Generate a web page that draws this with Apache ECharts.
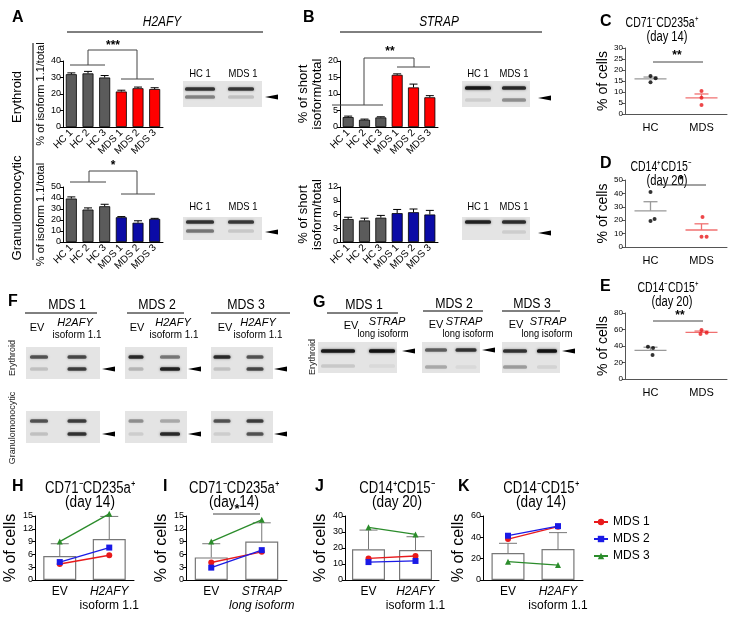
<!DOCTYPE html>
<html>
<head>
<meta charset="utf-8">
<script src="https://cdn.jsdelivr.net/npm/echarts@6/dist/echarts.min.js"></script>
<style>
  html, body { margin: 0; padding: 0; background: #fff; }
  #fig { width: 741px; height: 617px; }
</style>
</head>
<body>
<div id="fig"></div>
<script>
  // ---------- data ----------
  const samples = ['HC 1', 'HC 2', 'HC 3', 'MDS 1', 'MDS 2', 'MDS 3'];
  // A: H2AFY, % of isoform 1.1 / total
  const h2afyEryMean = [32, 32.5, 30, 21.5, 23.5, 23];
  const h2afyEryErr = [0.8, 1.2, 1.2, 0.8, 0.7, 0.8];
  const h2afyGranMean = [39.5, 29.5, 32.5, 22.5, 17.5, 21];
  const h2afyGranErr = [1.5, 1.5, 1.8, 0.6, 1.8, 0.5];
  // B: STRAP, % of short isoform / total
  const strapEryMean = [3.0, 2.2, 2.9, 15.8, 12.0, 9.0];
  const strapEryErr = [0.3, 0.2, 0.2, 0.3, 1.0, 0.5];
  const strapGranMean = [5.0, 4.7, 5.3, 6.3, 6.5, 6.0];
  const strapGranErr = [0.4, 0.5, 0.5, 0.8, 0.7, 0.9];

  // C-E: dot plots (x = group position with jitter, y = % of cells)
  const groups = ['HC', 'MDS'];
  const cHcX = [0.5, 0.6, 0.5],  cHcY = [17.3, 16.2, 14.4];
  const cMdsX = [1.5, 1.5, 1.5], cMdsY = [10.5, 7.4, 4.1];
  const cMean = [16.0, 7.3], cSem = [0.8, 1.8];
  const dHcX = [0.5, 0.5, 0.58], dHcY = [41, 19.4, 20.9];
  const dMdsX = [1.52, 1.5, 1.6], dMdsY = [22.4, 7.7, 7.7];
  const dMean = [27, 12.7], dSem = [6.8, 4.6];
  const eHcX = [0.45, 0.55, 0.54], eHcY = [39.2, 37.6, 29];
  const eMdsX = [1.5, 1.6, 1.48], eMdsY = [59.4, 56.1, 54.5];
  const eMean = [34.7, 56.6], eSem = [3.8, 1.5];

  // H-K: EV vs overexpression
  const hCats = ['EV', 'H2AFY'];
  const iCats = ['EV', 'STRAP'];
  const hMean = [5.6, 9.6],   hErr = [2.9, 5.3];
  const hMds1 = [3.75, 5.8],  hMds2 = [4.2, 7.6],   hMds3 = [9.0, 15.5];
  const iMean = [5.3, 9.0],   iErr = [3.2, 4.4];
  const iMds1 = [4.1, 6.6],   iMds2 = [2.9, 7.0],   iMds3 = [9.0, 14.1];
  const jMean = [19.2, 18.75], jErr = [12.0, 8.3];
  const jMds1 = [13.5, 15.0], jMds2 = [11.2, 11.9], jMds3 = [32.9, 28.5];
  const kMean = [25.3, 29.0], kErr = [9.1, 15.4];
  const kMds1 = [38.4, 50.0], kMds2 = [41.5, 50.5], kMds3 = [17.2, 14.0];

  // ---------- styling ----------
  const FONT = '"Liberation Sans", Arial, Helvetica, sans-serif';
  const GRAY = '#5b5b5b', RED = '#ff0000', NAVY = '#0b0ba6';
  const C1 = '#e8191b', C2 = '#1a1ae6', C3 = '#2b8c2b';

  const grids = [
    { left: 63,  top: 61,  width: 100, height: 66 },  // A erythroid
    { left: 63,  top: 187, width: 100, height: 55 },  // A granulomonocytic
    { left: 340, top: 61,  width: 98,  height: 66 },  // B erythroid
    { left: 340, top: 187, width: 98,  height: 55 },  // B granulomonocytic
    { left: 625, top: 48,  width: 102, height: 66 },  // C
    { left: 625, top: 180, width: 102, height: 67 },  // D
    { left: 625, top: 313, width: 102, height: 66 },  // E
    { left: 35,  top: 516, width: 99,  height: 64 },  // H
    { left: 186, top: 516, width: 101, height: 64 },  // I
    { left: 345, top: 516, width: 94,  height: 64 },  // J
    { left: 483, top: 516, width: 100, height: 64 }   // K
  ].map(g => Object.assign(g, { containLabel: false, outerBoundsMode: 'none' }));

  const xAxes = [], yAxes = [], series = [];

  function yVal(gi, max, interval, name, nameGap, nameSize, labelSize, color) {
    yAxes.push({
      type: 'value', gridIndex: gi, min: 0, max: max, interval: interval,
      axisLine: { show: true, lineStyle: { color: color, width: 1 } },
      axisTick: { show: true, length: 3, lineStyle: { color: color } },
      splitLine: { show: false },
      axisLabel: { fontSize: labelSize, color: '#000', margin: 2, fontFamily: FONT },
      name: name, nameLocation: 'middle', nameGap: nameGap,
      nameTextStyle: { fontSize: nameSize, color: '#000', fontFamily: FONT, lineHeight: nameSize + 1 }
    });
  }

  function errRender(color, hw) {
    return function (params, api) {
      const x = api.value(0), m = api.value(1), e = api.value(2);
      const a = api.coord([x, m]), b = api.coord([x, m + e]);
      return {
        type: 'group', children: [
          { type: 'line', shape: { x1: a[0], y1: a[1], x2: b[0], y2: b[1] }, style: { stroke: color, lineWidth: 1 } },
          { type: 'line', shape: { x1: b[0] - hw, y1: b[1], x2: b[0] + hw, y2: b[1] }, style: { stroke: color, lineWidth: 1 } }
        ]
      };
    };
  }

  function meanRender(color) {
    return function (params, api) {
      const x = api.value(0), m = api.value(1), e = api.value(2);
      const a = api.coord([x, m]), b = api.coord([x, m + e]);
      return {
        type: 'group', children: [
          { type: 'line', shape: { x1: a[0] - 16, y1: a[1], x2: a[0] + 16, y2: a[1] }, style: { stroke: color, lineWidth: 1.3 } },
          { type: 'line', shape: { x1: a[0], y1: a[1], x2: b[0], y2: b[1] }, style: { stroke: color, lineWidth: 1.3 } },
          { type: 'line', shape: { x1: b[0] - 7, y1: b[1], x2: b[0] + 7, y2: b[1] }, style: { stroke: color, lineWidth: 1.3 } }
        ]
      };
    };
  }

  // ----- A / B bar panels -----
  function barPanel(gi, means, errs, mdsColor, max, interval, name, nameGap, nameSize) {
    xAxes.push({
      type: 'category', gridIndex: gi, data: samples,
      axisLine: { lineStyle: { color: '#000' } },
      axisTick: { alignWithLabel: true, length: 3, lineStyle: { color: '#000' } },
      axisLabel: { interval: 0, rotate: 45, fontSize: 10, color: '#000', margin: 4, fontFamily: FONT }
    });
    yVal(gi, max, interval, name, nameGap, nameSize, 9, '#000');
    series.push({
      type: 'bar', xAxisIndex: gi, yAxisIndex: gi, barWidth: 11, silent: true,
      data: means.map((v, i) => ({ value: v, itemStyle: { color: i < 3 ? GRAY : mdsColor, borderColor: '#000', borderWidth: 0.8 } }))
    });
    series.push({
      type: 'custom', xAxisIndex: gi, yAxisIndex: gi, z: 5, silent: true,
      encode: { x: 0, y: 1 },
      data: means.map((v, i) => [i, v, errs[i]]),
      renderItem: errRender('#000', 4)
    });
  }
  barPanel(0, h2afyEryMean, h2afyEryErr, RED, 40, 10, '% of isoform 1.1/total', 13, 11);
  barPanel(1, h2afyGranMean, h2afyGranErr, NAVY, 50, 10, '% of isoform 1.1/total', 13, 11);
  barPanel(2, strapEryMean, strapEryErr, RED, 20, 5, '% of short\nisoform/total', 13, 13);
  barPanel(3, strapGranMean, strapGranErr, NAVY, 12, 3, '% of short\nisoform/total', 13, 13);

  // ----- C / D / E dot plots -----
  function dotPanel(gi, hx, hy, mx, my, mean, sem, max, interval) {
    xAxes.push({
      type: 'value', gridIndex: gi, min: 0, max: 2, interval: 0.5,
      axisLine: { show: true, onZero: false, lineStyle: { color: '#555' } },
      axisTick: { show: false }, splitLine: { show: false },
      axisLabel: {
        fontSize: 11, color: '#000', margin: 8, fontFamily: FONT,
        formatter: v => v === 0.5 ? groups[0] : (v === 1.5 ? groups[1] : '')
      }
    });
    yVal(gi, max, interval, '% of cells', 13, 14, 8, '#555');
    series.push({
      type: 'custom', xAxisIndex: gi, yAxisIndex: gi, silent: true, encode: { x: 0, y: 1 },
      data: [[0.5, mean[0], sem[0]]], renderItem: meanRender('#999')
    });
    series.push({
      type: 'custom', xAxisIndex: gi, yAxisIndex: gi, silent: true, encode: { x: 0, y: 1 },
      data: [[1.5, mean[1], sem[1]]], renderItem: meanRender('#f07070')
    });
    series.push({
      type: 'scatter', xAxisIndex: gi, yAxisIndex: gi, symbolSize: 4, silent: true, z: 5,
      itemStyle: { color: '#000' }, data: hx.map((x, i) => [x, hy[i]])
    });
    series.push({
      type: 'scatter', xAxisIndex: gi, yAxisIndex: gi, symbolSize: 4, silent: true, z: 5,
      itemStyle: { color: '#e8191b' }, data: mx.map((x, i) => [x, my[i]])
    });
  }
  dotPanel(4, cHcX, cHcY, cMdsX, cMdsY, cMean, cSem, 30, 5);
  dotPanel(5, dHcX, dHcY, dMdsX, dMdsY, dMean, dSem, 50, 10);
  dotPanel(6, eHcX, eHcY, eMdsX, eMdsY, eMean, eSem, 80, 20);

  // ----- H-K paired panels -----
  const rich = {
    n: { fontSize: 12, lineHeight: 14, fontFamily: FONT, color: '#000' },
    it: { fontSize: 12, lineHeight: 14, fontFamily: FONT, fontStyle: 'italic', color: '#000' }
  };
  function pairPanel(gi, cats, mean, err, m1, m2, m3, max, interval, nameGap, fmt) {
    xAxes.push({
      type: 'category', gridIndex: gi, data: cats,
      axisLine: { lineStyle: { color: '#000' } },
      axisTick: { show: false },
      axisLabel: { interval: 0, margin: 5, formatter: fmt, rich: rich }
    });
    yVal(gi, max, interval, '% of cells', nameGap, 16, 9, '#000');
    series.push({
      type: 'bar', xAxisIndex: gi, yAxisIndex: gi, barWidth: 33, silent: true,
      itemStyle: { color: '#fff', borderColor: '#777', borderWidth: 1.2 }, data: mean
    });
    series.push({
      type: 'custom', xAxisIndex: gi, yAxisIndex: gi, silent: true, z: 3, encode: { x: 0, y: 1 },
      data: mean.map((v, i) => [i, v, err[i]]), renderItem: errRender('#777', 9)
    });
    [[m1, 'MDS 1', C1, 'circle'], [m2, 'MDS 2', C2, 'rect'], [m3, 'MDS 3', C3, 'triangle']].forEach(s => {
      series.push({
        type: 'line', name: s[1], xAxisIndex: gi, yAxisIndex: gi, data: s[0], clip: false, z: 6,
        symbol: s[3], symbolSize: 6, color: s[2], silent: true,
        lineStyle: { color: s[2], width: 1.3 }, itemStyle: { color: s[2] }
      });
    });
  }
  const fmtH2afy = v => v === 'EV' ? '{n|EV}' : '{it|H2AFY}\n{n|isoform 1.1}';
  const fmtStrap = v => v === 'EV' ? '{n|EV}' : '{it|STRAP}\n{it|long isoform}';
  pairPanel(7, hCats, hMean, hErr, hMds1, hMds2, hMds3, 15, 3, 8, fmtH2afy);
  pairPanel(8, iCats, iMean, iErr, iMds1, iMds2, iMds3, 15, 3, 12, fmtStrap);
  pairPanel(9, hCats, jMean, jErr, jMds1, jMds2, jMds3, 40, 10, 12, fmtH2afy);
  pairPanel(10, hCats, kMean, kErr, kMds1, kMds2, kMds3, 60, 20, 12, fmtH2afy);

  // ---------- annotation graphics ----------
  function T(x, y, text, size, o) {
    o = o || {};
    return {
      type: 'text', x: x, y: y, rotation: o.rot || 0, scaleX: o.sx || 1, z: 10, silent: true,
      style: {
        text: text, fontSize: size, fontFamily: FONT,
        fontWeight: o.bold ? 'bold' : 'normal', fontStyle: o.it ? 'italic' : 'normal',
        fill: o.color || '#000', textAlign: o.align || 'center', textVerticalAlign: 'middle'
      }
    };
  }
  function L(points, color) {
    return { type: 'polyline', silent: true, z: 10, shape: { points: points }, style: { stroke: color || '#000', lineWidth: 1, fill: null } };
  }
  const R90 = Math.PI / 2;

  // gel images: background box, bands [cx, cy, width, darkness], arrow at band of interest
  const gelLayout = [
    { x: 183, y: 81,  w: 79, h: 26, arrow: [265, 97],  bands: [[200, 89, 30, .75], [241, 89, 26, .72], [200, 97, 30, .4], [241, 97, 26, .15]] },
    { x: 183, y: 217, w: 79, h: 23, arrow: [265, 232], bands: [[200, 222, 28, .75], [241, 222, 26, .72], [200, 231, 28, .45], [241, 231, 26, .12]] },
    { x: 462, y: 81,  w: 68, h: 26, arrow: [538, 98],  bands: [[478, 88, 26, .92], [514, 88, 24, .8], [478, 100, 26, .1], [514, 100, 24, .35]] },
    { x: 462, y: 217, w: 68, h: 23, arrow: [538, 233], bands: [[478, 222, 26, .85], [514, 222, 24, .78], [514, 232, 24, .1]] },
    { x: 26,  y: 347, w: 74, h: 32, arrow: [102, 369], bands: [[39, 357, 18, .6], [77, 357, 19, .65], [39, 369, 18, .15], [77, 369, 19, .7]] },
    { x: 125, y: 347, w: 62, h: 32, arrow: [188, 369], bands: [[136, 357, 15, .8], [170, 357, 20, .45], [136, 369, 15, .2], [170, 369, 20, .85]] },
    { x: 211, y: 347, w: 62, h: 32, arrow: [274, 369], bands: [[222, 357, 17, .8], [255, 357, 17, .6], [222, 369, 17, .15], [255, 369, 17, .65]] },
    { x: 26,  y: 411, w: 74, h: 32, arrow: [102, 434], bands: [[39, 421, 18, .6], [77, 421, 19, .7], [39, 434, 18, .15], [77, 434, 19, .75]] },
    { x: 125, y: 411, w: 62, h: 32, arrow: [188, 434], bands: [[136, 421, 15, .35], [170, 421, 20, .25], [136, 434, 15, .1], [170, 434, 20, .8]] },
    { x: 211, y: 411, w: 62, h: 32, arrow: [274, 434], bands: [[222, 421, 17, .6], [255, 421, 17, .7], [222, 434, 17, .1], [255, 434, 17, .6]] },
    { x: 318, y: 342, w: 79, h: 31, arrow: [402, 351], bands: [[338, 351, 34, .9], [382, 351, 26, .97], [338, 366, 34, .12], [382, 366, 26, .05]] },
    { x: 422, y: 342, w: 58, h: 31, arrow: [482, 350], bands: [[436, 350, 22, .55], [466, 350, 21, .75], [436, 367, 22, .25], [466, 367, 21, .05]] },
    { x: 502, y: 342, w: 58, h: 31, arrow: [562, 351], bands: [[515, 351, 24, .75], [547, 351, 20, .95], [515, 367, 24, .3], [547, 367, 20, .08]] }
  ];
  function gel(g) {
    const ch = [{ type: 'rect', shape: { x: g.x, y: g.y, width: g.w, height: g.h }, style: { fill: '#e4e4e4' } }];
    g.bands.forEach(b => ch.push({
      type: 'rect', shape: { x: b[0] - b[2] / 2, y: b[1] - 1.8, width: b[2], height: 3.6, r: 1.5 },
      style: { fill: 'rgba(15,15,15,' + b[3] + ')', shadowBlur: 2.5, shadowColor: 'rgba(15,15,15,' + (b[3] * 0.8) + ')' }
    }));
    const a = g.arrow;
    ch.push({ type: 'polygon', shape: { points: [[a[0], a[1]], [a[0] + 13, a[1] - 2.6], [a[0] + 13, a[1] + 2.6]] }, style: { fill: '#000' } });
    return { type: 'group', silent: true, children: ch };
  }

  const graphics = gelLayout.map(gel).concat([
    // panel A
    T(12, 18, 'A', 16, { bold: true, align: 'left' }),
    T(162, 22, 'H2AFY', 14, { it: true, sx: 0.85 }),
    L([[67, 32], [263, 32]]),
    L([[33, 43], [33, 260]]),
    T(17, 97, 'Erythroid', 13, { rot: R90 }),
    T(17, 208, 'Granulomonocytic', 13, { rot: R90 }),
    T(200, 74, 'HC 1', 10.5, { sx: 0.9 }), T(243, 74, 'MDS 1', 10.5, { sx: 0.9 }),
    T(200, 207, 'HC 1', 10.5, { sx: 0.9 }), T(243, 207, 'MDS 1', 10.5, { sx: 0.9 }),
    L([[88, 65], [88, 50], [137, 50], [137, 79]], '#444'), L([[70, 65], [105, 65]], '#444'), L([[121, 79], [154, 79]], '#444'),
    T(113, 46, '***', 12, { bold: true }),
    L([[89, 182], [89, 171], [137, 171], [137, 194]], '#444'), L([[70, 182], [106, 182]], '#444'), L([[121, 194], [155, 194]], '#444'),
    T(113, 166, '*', 12, { bold: true }),
    // panel B
    T(303, 18, 'B', 16, { bold: true, align: 'left' }),
    T(439, 22, 'STRAP', 14, { it: true, sx: 0.85 }),
    L([[340, 32], [542, 32]]),
    T(478, 74, 'HC 1', 10.5, { sx: 0.9 }), T(514, 74, 'MDS 1', 10.5, { sx: 0.9 }),
    T(478, 207, 'HC 1', 10.5, { sx: 0.9 }), T(514, 207, 'MDS 1', 10.5, { sx: 0.9 }),
    L([[364, 105], [364, 58], [414, 58], [414, 67]], '#444'), L([[332, 105], [383, 105]], '#444'), L([[397, 67], [430, 67]], '#444'),
    T(390, 52, '**', 12, { bold: true }),
    // panels C, D, E
    T(600, 22, 'C', 16, { bold: true, align: 'left' }),
    T(662, 23, 'CD71\u207BCD235a\u207A', 14, { sx: 0.75 }), T(667, 37, '(day 14)', 14, { sx: 0.8 }),
    L([[653, 62], [703, 62]], '#444'), T(677, 56, '**', 12, { bold: true }),
    T(600, 164, 'D', 16, { bold: true, align: 'left' }),
    T(661, 167, 'CD14\u207ACD15\u207B', 14, { sx: 0.75 }), T(667, 181, '(day 20)', 14, { sx: 0.8 }),
    L([[657, 185], [706, 185]], '#444'), T(681, 181, '*', 12, { bold: true }),
    T(600, 287, 'E', 16, { bold: true, align: 'left' }),
    T(668, 288, 'CD14\u207BCD15\u207A', 14, { sx: 0.75 }), T(672, 302, '(day 20)', 14, { sx: 0.8 }),
    L([[653, 321], [703, 321]], '#444'), T(680, 316, '**', 12, { bold: true }),
    // panel F
    T(8, 302, 'F', 16, { bold: true, align: 'left' }),
    T(67, 305, 'MDS 1', 14, { sx: 0.88 }), L([[25, 313], [97, 313]]),
    T(37, 328, 'EV', 11), T(75, 323, 'H2AFY', 11, { it: true }), T(77, 335, 'isoform 1.1', 11, { sx: 0.9 }),
    T(157, 305, 'MDS 2', 14, { sx: 0.88 }), L([[127, 313], [184, 313]]),
    T(137, 328, 'EV', 11), T(173, 323, 'H2AFY', 11, { it: true }), T(174, 335, 'isoform 1.1', 11, { sx: 0.9 }),
    T(246, 305, 'MDS 3', 14, { sx: 0.88 }), L([[211, 313], [290, 313]]),
    T(225, 328, 'EV', 11), T(258, 323, 'H2AFY', 11, { it: true }), T(258, 335, 'isoform 1.1', 11, { sx: 0.9 }),
    T(13, 358, 'Erythroid', 9, { rot: R90, color: '#222' }),
    T(13, 428, 'Granulomonocytic', 9, { rot: R90, color: '#222' }),
    // panel G
    T(313, 303, 'G', 16, { bold: true, align: 'left' }),
    T(364, 305, 'MDS 1', 14, { sx: 0.88 }), L([[327, 313], [398, 313]]),
    T(351, 326, 'EV', 11), T(387, 322, 'STRAP', 11, { it: true }), T(383, 334, 'long isoform', 11, { sx: 0.85 }),
    T(454, 304, 'MDS 2', 14, { sx: 0.88 }), L([[423, 311], [483, 311]]),
    T(436, 325, 'EV', 11), T(464, 322, 'STRAP', 11, { it: true }), T(468, 334, 'long isoform', 11, { sx: 0.85 }),
    T(532, 304, 'MDS 3', 14, { sx: 0.88 }), L([[502, 311], [560, 311]]),
    T(516, 325, 'EV', 11), T(548, 322, 'STRAP', 11, { it: true }), T(547, 334, 'long isoform', 11, { sx: 0.85 }),
    T(313, 357, 'Erythroid', 9, { rot: R90, color: '#222' }),
    // panels H-K
    T(12, 487, 'H', 16, { bold: true, align: 'left' }),
    T(90, 489, 'CD71\u207BCD235a\u207A', 16, { sx: 0.82 }), T(90, 503, '(day 14)', 16, { sx: 0.85 }),
    T(163, 487, 'I', 16, { bold: true, align: 'left' }),
    T(234, 489, 'CD71\u207BCD235a\u207A', 16, { sx: 0.82 }), T(234, 503, '(day 14)', 16, { sx: 0.85 }),
    L([[213, 514], [260, 514]], '#444'), T(237, 509, '*', 13, { bold: true }),
    T(315, 487, 'J', 16, { bold: true, align: 'left' }),
    T(397, 489, 'CD14\u207ACD15\u207B', 16, { sx: 0.82 }), T(397, 503, '(day 20)', 16, { sx: 0.85 }),
    T(458, 487, 'K', 16, { bold: true, align: 'left' }),
    T(541, 489, 'CD14\u207BCD15\u207A', 16, { sx: 0.82 }), T(541, 503, '(day 14)', 16, { sx: 0.85 })
  ]);

  const chart = echarts.init(document.getElementById('fig'), null, { renderer: 'canvas' });
  chart.setOption({
    animation: false,
    backgroundColor: '#fff',
    textStyle: { fontFamily: FONT },
    grid: grids,
    xAxis: xAxes,
    yAxis: yAxes,
    legend: {
      data: ['MDS 1', 'MDS 2', 'MDS 3'], orient: 'vertical', left: 588, top: 511,
      itemWidth: 14, itemHeight: 8, itemGap: 5, selectedMode: false,
      textStyle: { fontSize: 12, color: '#000', fontFamily: FONT }
    },
    graphic: graphics,
    series: series
  });
</script>
</body>
</html>
